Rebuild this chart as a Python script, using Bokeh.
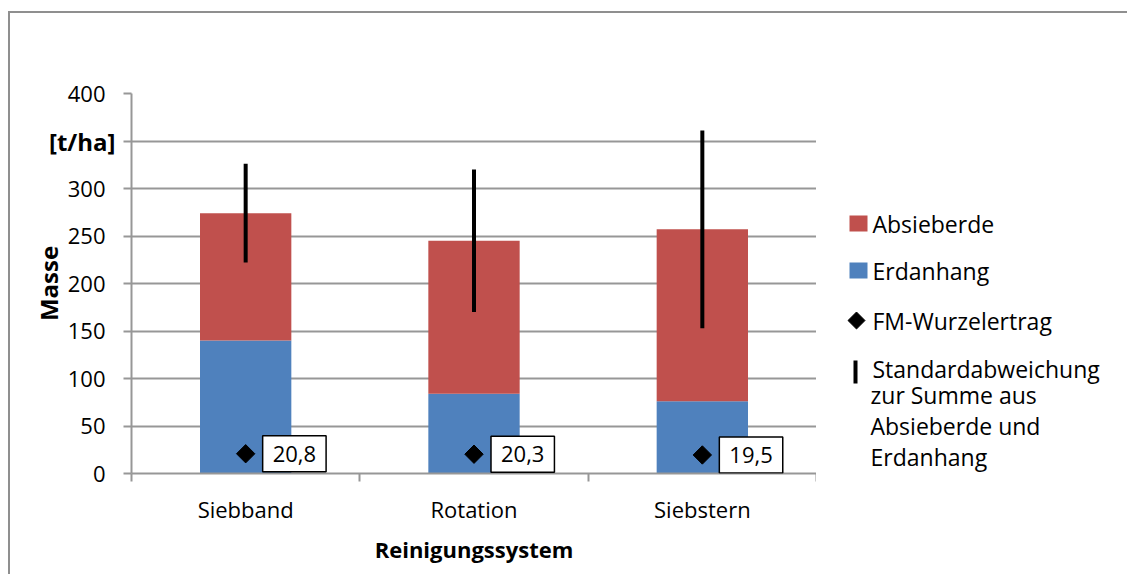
import math
from bokeh.plotting import figure
from bokeh.layouts import row
from bokeh.models import (ColumnDataSource, FixedTicker, Label, Range1d, LinearAxis)
from bokeh.core.properties import value
from bokeh.embed import file_html
from bokeh.resources import INLINE

# ---- data ----
categories = ["Siebband", "Rotation", "Siebstern"]
erdanhang = [140, 84, 76]
absieberde = [134, 161, 181]
std_summe = [52, 75, 104]
wurzelertrag = [20.8, 20.3, 19.5]
wurzel_labels = ["20,8", "20,3", "19,5"]
y_ticks = [0, 50, 100, 150, 200, 250, 300, 350, 400]
unit_tick = 350
unit_label = "[t/ha]"
legend_labels = ["Absieberde", "Erdanhang", "FM-Wurzelertrag",
                 "Standardabweichung\nzur Summe aus\nAbsieberde und\nErdanhang"]

RED = "#C0504D"
BLUE = "#4F81BD"
GRID = "#979797"
FONT = "Open Sans"

# layout (page pixels)
FRAME_L, FRAME_T, FRAME_W, FRAME_H = 131, 93, 685, 380
ORIGIN_X, ORIGIN_Y = 10, 13          # where the figure content starts (after margin + border)
H = 561

xs = [i + 0.5 for i in range(len(categories))]
totals = [e + a for e, a in zip(erdanhang, absieberde)]
src = ColumnDataSource(dict(
    x=xs, erdanhang=erdanhang, absieberde=absieberde, total=totals,
    lo=[t - s for t, s in zip(totals, std_summe)],
    hi=[t + s for t, s in zip(totals, std_summe)],
    wurzel=wurzelertrag,
))

p = figure(frame_width=FRAME_W, frame_height=FRAME_H,
           x_range=Range1d(0, len(categories)), y_range=Range1d(0, 400),
           output_backend="svg", toolbar_location=None,
           min_border_left=FRAME_L - ORIGIN_X, min_border_top=FRAME_T - ORIGIN_Y,
           min_border_right=0, min_border_bottom=H - (FRAME_T - ORIGIN_Y) - FRAME_H)
p.outline_line_color = None

bars = p.vbar_stack(["erdanhang", "absieberde"], x="x", width=0.4,
                    color=[BLUE, RED], line_color=None, source=src)
err = p.segment(x0="x", y0="lo", x1="x", y1="hi", line_width=4,
                line_color="black", source=src)
diam = p.scatter(x="x", y="wurzel", marker="square", angle=math.pi / 4, size=13,
                 color="black", source=src)

for x, y, t in zip(xs, wurzelertrag, wurzel_labels):
    p.add_layout(Label(x=x, y=y, text=t, x_offset=17, text_align="left",
                       text_baseline="middle", text_font=FONT, text_font_size="22px",
                       text_color="black", background_fill_color="white",
                       border_line_color="black", border_line_width=1.5, padding=10))

# axes
yax = p.yaxis[0]
yax.ticker = FixedTicker(ticks=y_ticks)
yax.major_label_overrides = {unit_tick: ""}
yax.axis_line_color = GRID
yax.axis_line_width = 2
yax.major_tick_line_color = GRID
yax.major_tick_line_width = 2
yax.major_tick_in = 0
yax.major_tick_out = 8
yax.minor_tick_line_color = None
yax.major_label_standoff = 18
yax.major_label_text_font = FONT
yax.major_label_text_font_size = "22px"
yax.major_label_text_color = "black"

# outer axis carrying only the bold unit label, pulled back over the tick-label column
yunit = LinearAxis(ticker=FixedTicker(ticks=[unit_tick]),
                   major_label_overrides={unit_tick: unit_label})
yunit.axis_line_color = None
yunit.major_tick_line_color = None
yunit.major_tick_in = 0
yunit.major_tick_out = 0
yunit.minor_tick_line_color = None
yunit.major_label_standoff = -51
yunit.major_label_text_font = FONT
yunit.major_label_text_font_size = "24px"
yunit.major_label_text_font_style = "bold"
yunit.major_label_text_color = "black"
yunit.axis_label = "Masse"
yunit.axis_label_text_font = FONT
yunit.axis_label_text_font_size = "24px"
yunit.axis_label_text_font_style = "bold"
yunit.axis_label_text_color = "black"
yunit.axis_label_standoff = -19
p.add_layout(yunit, "left")

xax = p.xaxis[0]
xax.ticker = FixedTicker(ticks=xs, minor_ticks=list(range(len(categories) + 1)))
xax.major_label_overrides = {x: c for x, c in zip(xs, categories)}
xax.axis_line_color = GRID
xax.axis_line_width = 2
xax.major_tick_line_color = None
xax.major_tick_in = 0
xax.major_tick_out = 8
xax.minor_tick_line_color = GRID
xax.minor_tick_line_width = 2
xax.minor_tick_in = 0
xax.minor_tick_out = 8
xax.major_label_standoff = 12
xax.major_label_text_font = FONT
xax.major_label_text_font_size = "22px"
xax.major_label_text_color = "black"
xax.axis_label = "Reinigungssystem"
xax.axis_label_text_font = FONT
xax.axis_label_text_font_size = "22px"
xax.axis_label_text_font_style = "bold"
xax.axis_label_text_color = "black"
xax.axis_label_standoff = 7

p.xgrid.grid_line_color = None
p.ygrid.ticker = FixedTicker(ticks=y_ticks)
p.ygrid.grid_line_color = GRID
p.ygrid.grid_line_width = 2

# ---- legend panel: its frame is aligned with the main frame; data units = page pixels ----
LX0 = FRAME_L + FRAME_W
LW = 1127 - LX0
leg = figure(width=LW, height=H, x_range=Range1d(LX0, LX0 + LW),
             y_range=Range1d(FRAME_T + FRAME_H, FRAME_T),
             output_backend="svg", toolbar_location=None, min_border=0)
leg.axis.visible = False
leg.grid.visible = False
leg.outline_line_color = None

item_y = [223, 270, 320, 368]
glyph_x = 858
text_x = 872
line_y = [0, 26, 57, 88]

leg.rect(x=[glyph_x, glyph_x], y=item_y[:2], width=18, height=16,
         fill_color=[RED, BLUE], line_color=None)
leg.scatter(x=[glyph_x - 2], y=[item_y[2]], marker="square", angle=math.pi / 4,
            size=12, color="black")
leg.segment(x0=[glyph_x - 3], y0=[item_y[3] - 8], x1=[glyph_x - 3], y1=[item_y[3] + 15],
            line_width=4, line_color="black")

tx, ty, tt = [], [], []
for yi, lab in zip(item_y, legend_labels):
    for k, line in enumerate(lab.split("\n")):
        tx.append(text_x if k == 0 else text_x - 2)
        ty.append(yi + line_y[k])
        tt.append(line)
leg.text(x=tx, y=ty, text=tt, text_font=value(FONT), text_font_size="23px",
         text_baseline="middle", text_align="left", text_color="black")

layout = row(p, leg, styles={"margin-left": "8px", "margin-top": "11px",
                             "border-left": "2px solid #8f8f8f",
                             "border-top": "2px solid #8f8f8f"})
open("out.html", "w").write(file_html(layout, INLINE))
